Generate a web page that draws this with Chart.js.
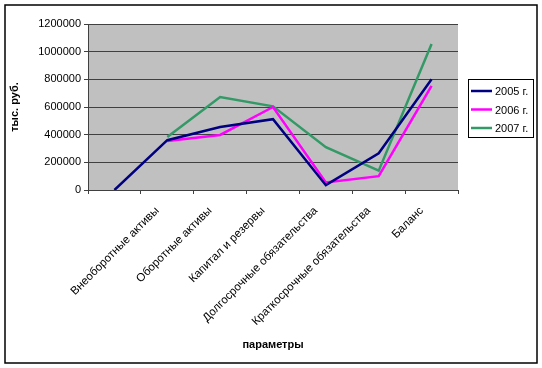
<!DOCTYPE html>
<html>
<head>
<meta charset="utf-8">
<script src="https://cdn.jsdelivr.net/npm/chart.js@4"></script>
<style>
  html, body { margin: 0; padding: 0; background: #fff; }
  #wrap { width: 542px; height: 368px; }
</style>
</head>
<body>
<div id="wrap"><canvas id="grafico" width="542" height="368"></canvas></div>
<script>
// categorias (la primera va vacía, como en el original)
const categorias = ['', 'Внеоборотные активы', 'Оборотные активы', 'Капитал и резервы',
  'Долгосрочные обязательства', 'Краткосрочные обязательства', 'Баланс'];

const valores2005 = [0, 360000, 455000, 512000, 35000, 265000, 800000];
const valores2006 = [null, 355000, 398000, 600000, 55000, 100000, 752000];
const valores2007 = [null, 383000, 672000, 605000, 310000, 140000, 1055000];

const ticksY = [0, 200000, 400000, 600000, 800000, 1000000, 1200000];

const fuente = 'Liberation Sans, Arial, sans-serif';

// fondo gris, borde exterior y leyenda dibujados a mano
const extras = {
  id: 'extras',
  beforeDraw(chart) {
    const ctx = chart.ctx;
    const a = chart.chartArea;
    ctx.save();
    ctx.fillStyle = '#fff';
    ctx.fillRect(0, 0, chart.width, chart.height);
    ctx.fillStyle = '#c0c0c0';
    ctx.fillRect(a.left, a.top, a.right - a.left, a.bottom - a.top);
    ctx.restore();
  },
  afterDraw(chart) {
    const ctx = chart.ctx;
    ctx.save();
    ctx.strokeStyle = '#000';
    ctx.lineWidth = 1.5;
    ctx.strokeRect(5, 5, 532, 358);

    // leyenda
    ctx.lineWidth = 1;
    ctx.strokeRect(468.5, 79.5, 65, 58);
    ctx.font = '11px ' + fuente;
    ctx.textBaseline = 'middle';
    chart.data.datasets.forEach((ds, i) => {
      const y = 91 + i * 18.5;
      ctx.strokeStyle = ds.borderColor;
      ctx.lineWidth = 2.5;
      ctx.beginPath();
      ctx.moveTo(471, y);
      ctx.lineTo(492, y);
      ctx.stroke();
      ctx.fillStyle = '#000';
      ctx.fillText(ds.label, 495, y + 1);
    });
    ctx.restore();
  }
};

new Chart(document.getElementById('grafico'), {
  type: 'line',
  data: {
    labels: categorias,
    datasets: [
      { label: '2005 г.', data: valores2005, borderColor: '#000080' },
      { label: '2006 г.', data: valores2006, borderColor: '#ff00ff' },
      { label: '2007 г.', data: valores2007, borderColor: '#339966' }
    ]
  },
  options: {
    responsive: false,
    animation: false,
    devicePixelRatio: 1,
    layout: { padding: { top: 24, right: 84, left: 0, bottom: 0 } },
    elements: {
      line: { borderWidth: 2.5, tension: 0 },
      point: { radius: 0 }
    },
    plugins: {
      legend: { display: false },
      tooltip: { enabled: false }
    },
    scales: {
      x: {
        offset: true,
        afterFit(scale) { scale.height = 178; },
        grid: {
          offset: true,
          drawOnChartArea: false,
          color: '#404040',
          tickLength: 4
        },
        border: { color: '#404040', width: 1 },
        ticks: {
          color: '#000',
          font: { family: fuente, size: 11.5 },
          minRotation: 45,
          maxRotation: 45,
          autoSkip: false,
          padding: 10,
          labelOffset: -10
        },
        title: {
          display: true,
          text: 'параметры',
          color: '#000',
          font: { family: fuente, size: 11, weight: 'bold' },
          padding: { top: 0, bottom: 16 }
        }
      },
      y: {
        min: 0,
        max: 1200000,
        afterFit(scale) { scale.width = 88; },
        afterBuildTicks(scale) { scale.ticks = ticksY.map(v => ({ value: v })); },
        grid: {
          color: '#404040',
          tickLength: 4
        },
        border: { color: '#404040', width: 1 },
        ticks: {
          color: '#000',
          font: { family: fuente, size: 11 },
          padding: 3,
          callback: v => String(v)
        },
        title: {
          display: true,
          text: 'тыс. руб.',
          color: '#000',
          font: { family: fuente, size: 11, weight: 'bold' },
          padding: { top: 8, bottom: 0 }
        }
      }
    }
  },
  plugins: [extras]
});
</script>
</body>
</html>
